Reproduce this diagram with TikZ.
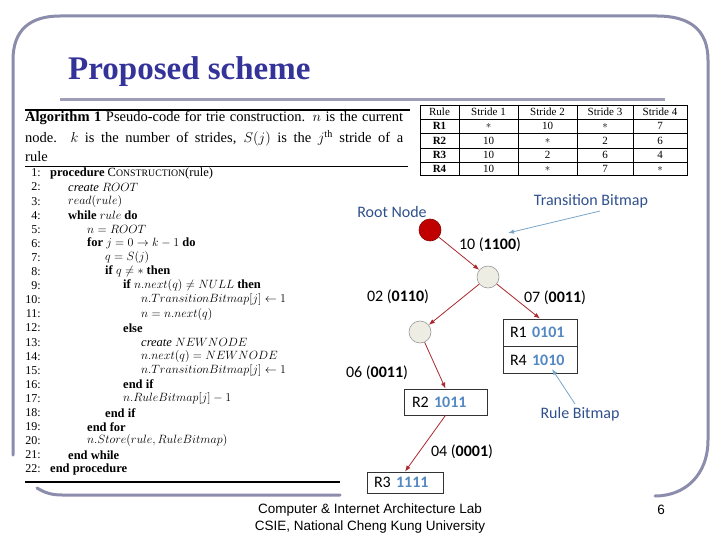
\documentclass[tikz,border=0pt]{standalone}
\usepackage{fontspec}
\setmainfont{Liberation Serif}
\newfontfamily\calib{Carlito}
\newfontfamily\arialf{Liberation Sans}
\usetikzlibrary{positioning,arrows.meta}
\definecolor{framegray}{RGB}{140,140,172}
\definecolor{titleblue}{RGB}{51,51,153}
\definecolor{navy}{RGB}{47,80,140}
\definecolor{bitblue}{RGB}{84,136,195}
\definecolor{arrred}{RGB}{170,40,45}
\definecolor{arrblue}{RGB}{120,165,200}
\definecolor{rootred}{RGB}{192,0,0}
\definecolor{nodefill}{RGB}{238,237,228}
\newcommand{\bits}[1]{{\color{bitblue}\bfseries #1}}
\newcommand{\scsz}{\fontsize{9.8}{9.8}\selectfont}
\tikzset{
  frame/.style={draw=framegray,line width=3pt,line cap=round},
  alg/.style={anchor=west,inner sep=0pt,font=\fontsize{12.5}{12.5}\selectfont},
  capline/.style={anchor=west,inner sep=0pt,font=\fontsize{14.5}{14.5}\selectfont},
  lnum/.style={anchor=east,inner sep=0pt,font=\fontsize{12}{12}\selectfont},
  tcell/.style={inner sep=0pt,font=\fontsize{11}{11}\selectfont},
  tlbl/.style={inner sep=0pt,font=\calib\fontsize{16}{16}\selectfont},
  navylbl/.style={tlbl,text=navy},
  rootnode/.style={circle,minimum size=22pt,inner sep=0pt,fill=rootred,draw=rootred!70!black,line width=0.6pt},
  trienode/.style={circle,minimum size=22pt,inner sep=0pt,fill=nodefill,draw=gray!80,line width=0.6pt},
  leafbox/.style={draw=black!80,line width=0.8pt,inner ysep=0pt,align=left,font=\calib\fontsize{16}{16}\selectfont},
  redarr/.style={-{Latex[length=6pt,width=4.5pt]},draw=arrred,line width=0.8pt},
  bluearr/.style={-{Latex[length=6pt,width=4.5pt]},draw=arrblue,line width=0.8pt}
}
\begin{document}
\begin{tikzpicture}[x=1pt,y=-1pt]
  \useasboundingbox (0,0) rectangle (720,540);
  \draw[frame] (13,455) -- (13,60) .. controls (13,30) and (30,16) .. (60,16) -- (657,16)
    .. controls (690,16) and (708,30) .. (708,60) -- (708,440)
    .. controls (708,475) and (685,496) .. (655,496);
  \draw[frame] (37,488) .. controls (45,493) and (52,495) .. (62,495) -- (340,495);
  \draw[draw=framegray!85,line width=3pt] (60,100) -- (665,100);
  \node[anchor=base west,inner sep=0pt,text=titleblue,font=\bfseries\fontsize{33}{33}\selectfont] (title) at (68,80) {Proposed scheme};

  % algorithm
  \draw[line width=1.5pt] (25,110) -- (410,110);
  \draw[line width=0.6pt] (25,166) -- (408,166);
  \draw[line width=1.5pt] (25,482) -- (340,482);
  \node[capline] (cap1) at (25,118) {\makebox[378pt][s]{\textbf{Algorithm 1} Pseudo-code for trie construction. $n$ is the current}};
  \node[capline] (cap2) at (25,138) {\makebox[378pt][s]{node. $k$ is the number of strides, $S(j)$ is the $j^{\mathrm{th}}$ stride of a}};
  \node[capline] (cap3) at (25,157) {rule};
  \foreach \i in {1,...,22}
    \node[lnum] (ln\i) at (41,{173+14.1*(\i-1)}) {\i:};
  \node[alg] (a1) at (50,173) {\textbf{procedure} C{\scsz ONSTRUCTION}(rule)};
  \node[alg] (a2) at (68,187.1) {\emph{create} $ROOT$};
  \node[alg] (a3) at (68,201.2) {$read(rule)$};
  \node[alg] (a4) at (68,215.3) {\textbf{while} $rule$ \textbf{do}};
  \node[alg] (a5) at (87,229.4) {$n = ROOT$};
  \node[alg] (a6) at (87,243.5) {\textbf{for} $j = 0 \rightarrow k-1$ \textbf{do}};
  \node[alg] (a7) at (105,257.6) {$q = S(j)$};
  \node[alg] (a8) at (105,271.7) {\textbf{if} $q \neq *$ \textbf{then}};
  \node[alg] (a9) at (123,285.8) {\textbf{if} $n.next(q) \neq NULL$ \textbf{then}};
  \node[alg] (a10) at (141,299.9) {$n.TransitionBitmap[j] \leftarrow 1$};
  \node[alg] (a11) at (141,314) {$n = n.next(q)$};
  \node[alg] (a12) at (123,328.1) {\textbf{else}};
  \node[alg] (a13) at (141,342.2) {\emph{create} $NEWNODE$};
  \node[alg] (a14) at (141,356.3) {$n.next(q) = NEWNODE$};
  \node[alg] (a15) at (141,370.4) {$n.TransitionBitmap[j] \leftarrow 1$};
  \node[alg] (a16) at (123,384.5) {\textbf{end if}};
  \node[alg] (a17) at (123,398.6) {$n.RuleBitmap[j] - 1$};
  \node[alg] (a18) at (105,412.7) {\textbf{end if}};
  \node[alg] (a19) at (87,426.8) {\textbf{end for}};
  \node[alg] (a20) at (87,440.9) {$n.Store(rule, RuleBitmap)$};
  \node[alg] (a21) at (68,455) {\textbf{end while}};
  \node[alg] (a22) at (50,469.1) {\textbf{end procedure}};

  % stride table
  \draw[line width=0.8pt] (420,105) rectangle (687,175);
  \foreach \x in {459,518,577,633}
    \draw[line width=0.6pt] (\x,105) -- (\x,175);
  \foreach \y in {119,133,148,162}
    \draw[line width=0.6pt] (420,\y) -- (687,\y);
  \foreach \rw/\yy/\ca/\cb/\cc/\cd/\ce in {0/112/Rule/Stride 1/Stride 2/Stride 3/Stride 4,
      1/126/\textbf{R1}/$*$/10/$*$/7, 2/140.5/\textbf{R2}/10/$*$/2/6,
      3/155/\textbf{R3}/10/2/6/4, 4/168.5/\textbf{R4}/10/$*$/7/$*$}{
    \node[tcell] (c\rw a) at (439.5,\yy) {\ca};
    \node[tcell] (c\rw b) at (488.5,\yy) {\cb};
    \node[tcell] (c\rw c) at (547.5,\yy) {\cc};
    \node[tcell] (c\rw d) at (605,\yy) {\cd};
    \node[tcell] (c\rw e) at (660,\yy) {\ce};
  }

  % trie
  \node[navylbl] (rootlbl) at (392,212) {Root Node};
  \node[navylbl] (tblbl) at (591,201) {Transition Bitmap};
  \node[rootnode] (root) at (430,230) {};
  \node[trienode] (n1) at (488,277) {};
  \node[trienode] (n2) at (420,332) {};
  \node[leafbox,minimum width=74pt,minimum height=27pt,text width=60pt] (r1) at (540,332.5) {R1 \bits{0101}};
  \node[leafbox,minimum width=74pt,minimum height=27pt,text width=60pt,below=0pt of r1] (r4) {R4 \bits{1010}};
  \node[leafbox,minimum width=83pt,minimum height=26pt,text width=67pt] (r2) at (445.5,402) {R2 \bits{1011}};
  \node[leafbox,minimum width=76pt,minimum height=21pt,text width=62pt] (r3) at (405,482.5) {R3 \bits{1111}};
  \node[tlbl] (e10) at (490,245) {10 (\textbf{1100})};
  \node[tlbl] (e02) at (398,297) {02 (\textbf{0110})};
  \node[tlbl] (e07) at (555,298) {07 (\textbf{0011})};
  \node[tlbl] (e06) at (377,373) {06 (\textbf{0011})};
  \node[tlbl] (e04) at (462,452) {04 (\textbf{0001})};
  \node[navylbl] (rblbl) at (580,414) {Rule Bitmap};
  \coordinate (tbtip) at (508,233);
  \coordinate (rbtip) at (552,369);
  \draw[redarr] (root) -- (n1);
  \draw[redarr] (n1) -- (n2);
  \draw[redarr] (n1) -- (r1.north);
  \draw[redarr] (n2) -- (r2.north);
  \draw[redarr] (r2.south) -- (r3.north);
  \draw[bluearr] ([xshift=9pt,yshift=-3pt]tblbl.south) -- (tbtip);
  \draw[bluearr] ([xshift=-5pt,yshift=3pt]rblbl.north) -- (rbtip);

  % footer
  \node[inner sep=0pt,align=center,font=\arialf\fontsize{13.5}{17}\selectfont] (foot) at (370,518.5) {Computer \& Internet Architecture Lab\\CSIE, National Cheng Kung University};
  \node[inner sep=0pt,font=\arialf\fontsize{13.5}{13.5}\selectfont] (pnum) at (661,510) {6};
\end{tikzpicture}
\end{document}
